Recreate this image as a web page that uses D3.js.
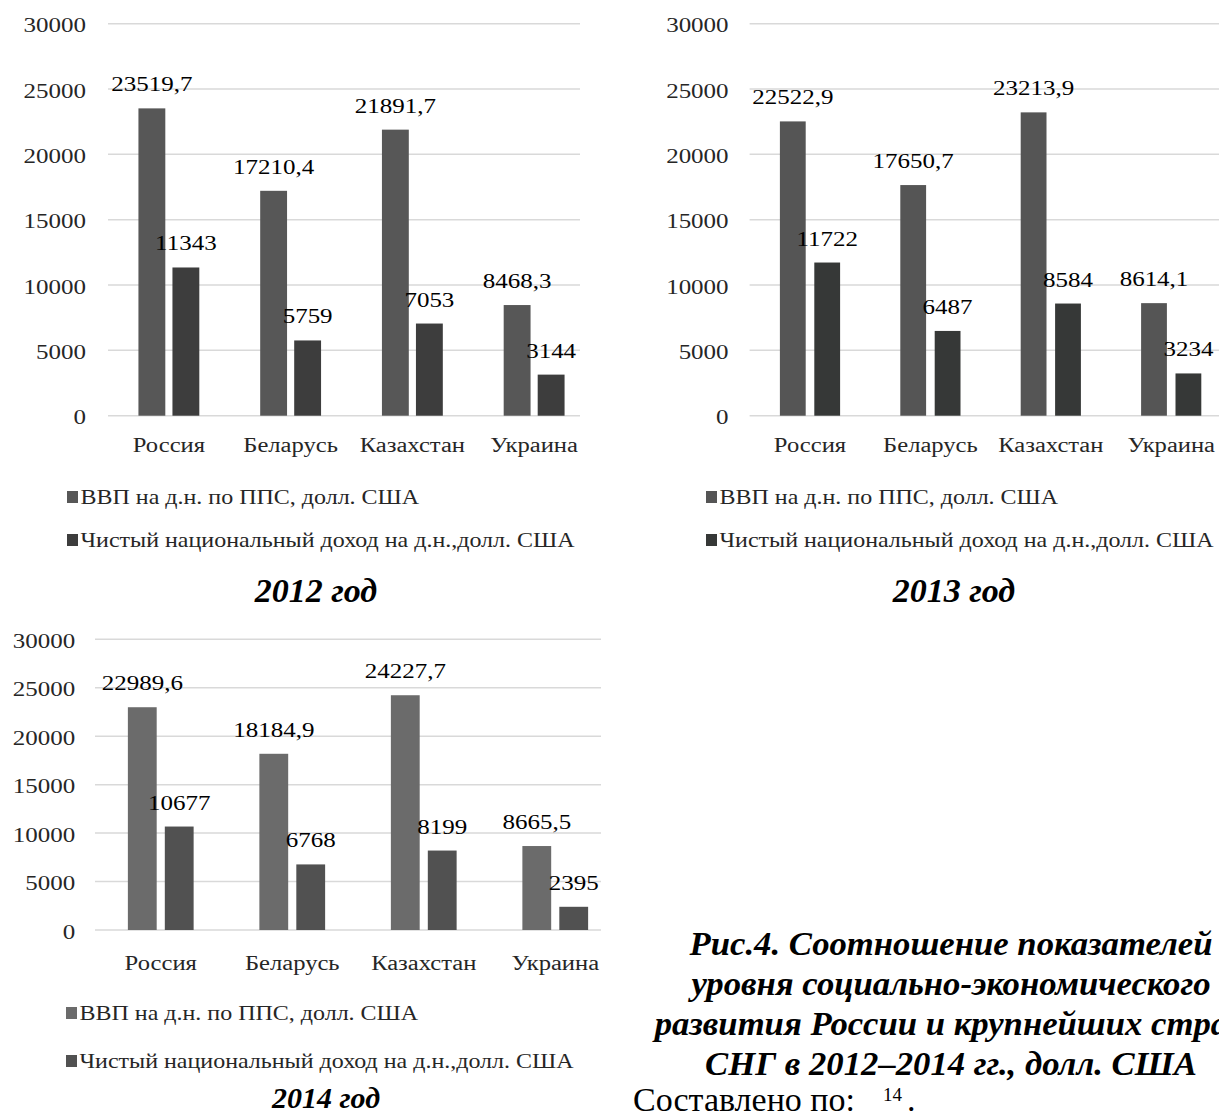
<!DOCTYPE html>
<html><head><meta charset="utf-8">
<script src="https://cdn.jsdelivr.net/npm/d3@7"></script>
<style>body{margin:0;background:#fff} svg{display:block}</style>
</head><body>
<svg id="c" width="1219" height="1119"></svg>
<script>
// ---- data ----
const countries = ["Россия", "Беларусь", "Казахстан", "Украина"];
const seriesNames = ["ВВП на д.н. по ППС, долл. США", "Чистый национальный доход на д.н.,долл. США"];
const gdp2012 = [23519.7, 17210.4, 21891.7, 8468.3];
const nni2012 = [11343, 5759, 7053, 3144];
const gdp2013 = [22522.9, 17650.7, 23213.9, 8614.1];
const nni2013 = [11722, 6487, 8584, 3234];
const gdp2014 = [22989.6, 18184.9, 24227.7, 8665.5];
const nni2014 = [10677, 6768, 8199, 2395];
const yTicks = [0, 5000, 10000, 15000, 20000, 25000, 30000];
const yearTitles = ["2012 год", "2013 год", "2014 год"];
const captionLines = [
  "Рис.4. Соотношение показателей",
  "уровня социально-экономического",
  "развития России и крупнейших стран",
  "СНГ в 2012–2014 гг., долл. США"
];
const sourceText = "Составлено по:";
const footnoteRef = "14";

// ---- drawing ----
const svg = d3.select("#c");
svg.append("rect").attr("width", 1219).attr("height", 1119).attr("fill", "#fff");
const FONT = "'Liberation Serif','Times New Roman',serif";

function txt(g, x, y, s, o) {
  return g.append("text")
    .attr("transform", `translate(${x},${y}) scale(${o.sx || 1},1)`)
    .attr("text-anchor", o.anchor || "start")
    .style("font-family", FONT)
    .style("font-size", o.size + "px")
    .style("font-weight", o.weight || "normal")
    .style("font-style", o.italic ? "italic" : "normal")
    .attr("fill", o.fill || "#000")
    .text(s);
}

const fmtGdp = v => d3.format(".1f")(v).replace(".", ",");
const fmtNni = v => d3.format("d")(v);

function drawChart(cfg, gdp, nni, title) {
  const g = svg.append("g");
  const x = d3.scaleBand().domain(countries).range([cfg.x0, cfg.x1])
    .paddingInner(0.5).paddingOuter(0.25);
  const xs = d3.scaleBand().domain([0, 1]).range([0, x.bandwidth()]).paddingInner(cfg.gap);
  const y = d3.scaleLinear().domain([0, 30000]).range([cfg.yb, cfg.yt]);

  // gridlines
  g.selectAll("line.grid").data(yTicks).join("line")
    .attr("x1", cfg.gx0).attr("x2", cfg.gx1)
    .attr("y1", d => y(d)).attr("y2", d => y(d))
    .attr("stroke", "#d9d9d9").attr("stroke-width", 1.5);

  // tick labels
  yTicks.forEach(t => txt(g, cfg.tx, y(t) + 8.5, String(t), {size: 20, sx: 1.25, anchor: "end", fill: "#262626"}));

  const series = [gdp, nni];
  const fmts = [fmtGdp, fmtNni];
  series.forEach((vals, si) => {
    g.selectAll(null).data(vals).join("rect")
      .attr("x", (d, i) => x(countries[i]) + xs(si))
      .attr("width", xs.bandwidth())
      .attr("y", d => y(d))
      .attr("height", d => y(0) - y(d))
      .attr("fill", cfg.colors[si]);
    vals.forEach((v, i) => {
      txt(g, x(countries[i]) + xs(si) + xs.bandwidth() / 2, y(v) - 17, fmts[si](v),
        {size: 20, sx: 1.25, anchor: "middle", fill: "#000"});
    });
  });

  // category labels
  countries.forEach(c => txt(g, x(c) + x.bandwidth() / 2, cfg.catY, c,
    {size: 20, sx: 1.23, anchor: "middle", fill: "#262626"}));

  // legend
  seriesNames.forEach((s, si) => {
    const top = cfg.legY[si];
    g.append("rect").attr("x", cfg.lx).attr("y", top).attr("width", 11).attr("height", 12)
      .attr("fill", cfg.colors[si]);
    txt(g, cfg.lx + 13.5, top + 13, s, {size: 20, sx: 1.2, fill: "#262626"});
  });

  // year title
  txt(g, cfg.titleX, cfg.titleY, title, {size: cfg.titleSize, weight: "bold", italic: true, anchor: "middle"});
}

drawChart({x0: 108, x1: 595, gap: 0.21, yb: 415.7, yt: 23.7, gx0: 108, gx1: 580, tx: 86,
  colors: ["#575757", "#3d3d3d"], catY: 452, lx: 67, legY: [491, 534], titleX: 316, titleY: 602, titleSize: 34},
  gdp2012, nni2012, yearTitles[0]);

drawChart({x0: 749.8, x1: 1231.4, gap: 0.25, yb: 415.7, yt: 23.7, gx0: 749.6, gx1: 1219, tx: 728.6,
  colors: ["#555555", "#363837"], catY: 452, lx: 706, legY: [491, 534], titleX: 954, titleY: 602, titleSize: 34},
  gdp2013, nni2013, yearTitles[1]);

drawChart({x0: 95, x1: 621, gap: 0.22, yb: 930, yt: 639.3, gx0: 95, gx1: 601, tx: 75.3,
  colors: ["#6b6b6b", "#515151"], catY: 970, lx: 66, legY: [1007, 1055], titleX: 326, titleY: 1108, titleSize: 30},
  gdp2014, nni2014, yearTitles[2]);

// caption
const cap = svg.append("g");
captionLines.forEach((l, i) => txt(cap, 951, 955 + i * 40, l,
  {size: 34.7, weight: "bold", italic: true, anchor: "middle"}));
txt(cap, 633, 1111, sourceText, {size: 34});
txt(cap, 883, 1101, footnoteRef, {size: 19});
txt(cap, 907, 1111, ".", {size: 34});
</script>
</body></html>
